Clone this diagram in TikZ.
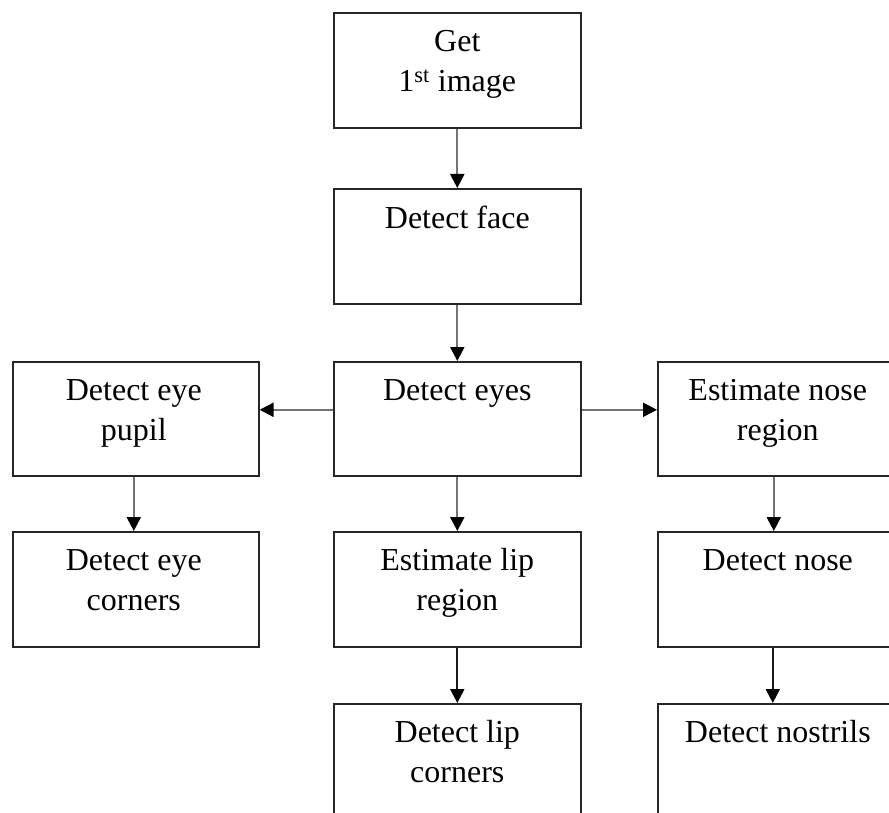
\documentclass[tikz,border=0pt]{standalone}
\usepackage{fontspec}
\setmainfont{Liberation Serif}
\usetikzlibrary{arrows.meta,calc}
\begin{document}
\begin{tikzpicture}[x=1pt,y=-1pt,
  box/.style={draw=black!85, line width=1.6pt, minimum width=247pt, minimum height=115pt, inner sep=0pt, anchor=north west},
  txt/.style={font=\fontsize{32}{39.5}\selectfont, align=center, anchor=north, inner sep=0pt},
  arr/.style={draw=black!55, line width=2.2pt, -{Triangle[length=14pt,width=14pt,color=black,fill=black]}},
  arrk/.style={arr, draw=black!90}]
\useasboundingbox (0,0) rectangle (889,813);
\clip (0,0) rectangle (889,813);
% boxes
\node[box] (gi) at (333,12) {};
\node[box] (df) at (333,188) {};
\node[box, minimum height=114pt] (de) at (333,361) {};
\node[box, minimum width=246pt, minimum height=114pt] (pu) at (12,361) {};
\node[box, minimum width=240pt, minimum height=114pt] (nr) at (657,361) {};
\node[box, minimum width=246pt] (ec) at (12,531) {};
\node[box] (lr) at (333,531) {};
\node[box, minimum width=240pt] (dn) at (657,531) {};
\node[box] (lc) at (333,703) {};
\node[box, minimum width=240pt] (ns) at (657,703) {};
% texts
\node[txt] (tgi) at ($(gi.north)+(0,12)$) {\strut Get\\1\textsuperscript{st} image};
\node[txt] (tdf) at ($(df.north)+(0,13)$) {\strut Detect face};
\node[txt] (tde) at ($(de.north)+(0,12)$) {\strut Detect eyes};
\node[txt] (tpu) at ($(pu.north)+(-2,12)$) {\strut Detect eye\\pupil};
\node[txt] (tnr) at ($(nr.north)+(0,12)$) {\strut Estimate nose\\region};
\node[txt] (tec) at ($(ec.north)+(-2,12)$) {\strut Detect eye\\corners};
\node[txt] (tlr) at ($(lr.north)+(0,12)$) {\strut Estimate lip\\region};
\node[txt] (tdn) at ($(dn.north)+(0,12)$) {\strut Detect nose};
\node[txt] (tlc) at ($(lc.north)+(0,12)$) {\strut Detect lip\\corners};
\node[txt] (tns) at ($(ns.north)+(0,12)$) {\strut Detect nostrils};
% arrows
\draw[arr] (gi.south) -- (df.north);
\draw[arr] (df.south) -- (de.north);
\draw[arr] ($(de.west)+(0,-9)$) -- ($(pu.east)+(0,-9)$);
\draw[arr] ($(de.east)+(0,-9)$) -- ($(nr.west)+(0,-9)$);
\draw[arr] ($(pu.south)+(-2,0)$) -- ($(ec.north)+(-2,0)$);
\draw[arr] (de.south) -- (lr.north);
\draw[arr] ($(nr.south)+(-4,0)$) -- ($(dn.north)+(-4,0)$);
\draw[arrk] (lr.south) -- (lc.north);
\draw[arrk] ($(dn.south)+(-5,0)$) -- ($(ns.north)+(-5,0)$);
\end{tikzpicture}
\end{document}
